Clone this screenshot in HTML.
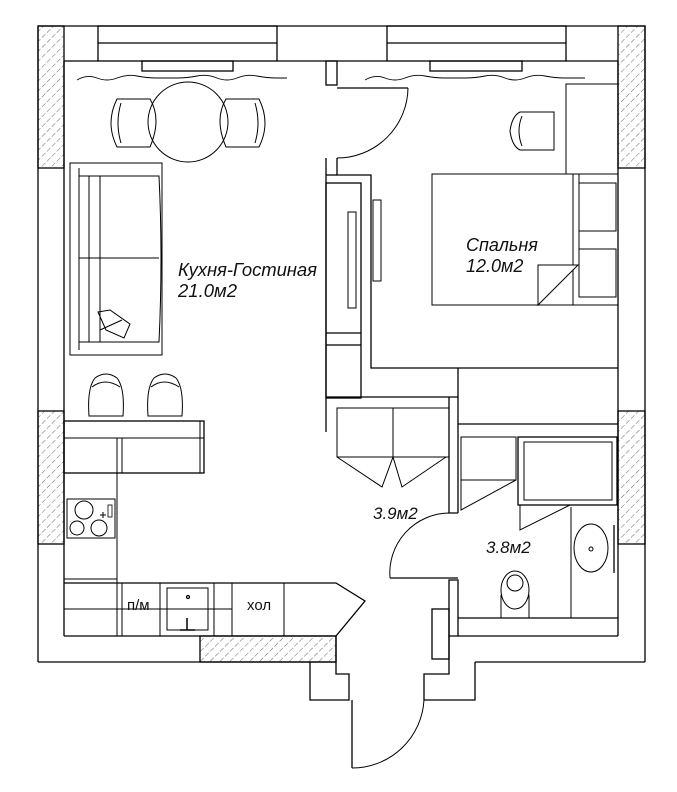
<!DOCTYPE html>
<html><head><meta charset="utf-8"><style>
html,body{margin:0;padding:0;background:#fff}
svg{display:block}
text{font-family:"Liberation Sans",sans-serif;fill:#111}
</style></head><body>
<svg width="677" height="792" viewBox="0 0 677 792" xmlns="http://www.w3.org/2000/svg">
<defs>
<pattern id="h" width="7" height="7" patternUnits="userSpaceOnUse" patternTransform="rotate(45)">
<line x1="0" y1="0" x2="0" y2="7" stroke="#555" stroke-width="0.9" stroke-dasharray="4,2"/>
</pattern>
</defs>
<g fill="none" stroke="#000" stroke-width="1.3">
<rect x="38" y="26" width="26" height="142" fill="url(#h)"/>
<rect x="618" y="26" width="27" height="142" fill="url(#h)"/>
<rect x="38" y="411" width="26" height="133" fill="url(#h)"/>
<rect x="618" y="411" width="27" height="133" fill="url(#h)"/>
<rect x="200" y="636" width="136" height="26" fill="url(#h)"/>
<line x1="38" y1="26" x2="645" y2="26"/>
<line x1="38" y1="26" x2="38" y2="662"/>
<line x1="645" y1="26" x2="645" y2="662"/>
<line x1="38" y1="662" x2="336" y2="662"/>
<line x1="475" y1="662" x2="645" y2="662"/>
<line x1="64" y1="61" x2="64" y2="636"/>
<line x1="618" y1="61" x2="618" y2="636"/>
<line x1="64" y1="61" x2="98" y2="61"/>
<line x1="277" y1="61" x2="387" y2="61"/>
<line x1="566" y1="61" x2="618" y2="61"/>
<rect x="98" y="26" width="179" height="35"/><line x1="98" y1="43" x2="277" y2="43"/>
<rect x="387" y="26" width="179" height="35"/><line x1="387" y1="43" x2="566" y2="43"/>
<rect x="142" y="61" width="91" height="10"/>
<rect x="430" y="61" width="92" height="10"/>
<path d="M77,80 q10,-6 20,-2 t20,0 t20,-2 t20,2 t20,0 t20,-2 t20,2 t20,0 t20,-2 t20,2 t10,0" stroke-width="0.9"/>
<path d="M365,80 q10,-6 20,-2 t20,0 t20,-2 t20,2 t20,0 t20,-2 t20,2 t20,0 t20,-2 t20,2 t20,0" stroke-width="0.9"/>
<circle cx="188" cy="122" r="40" stroke-width="1"/>
<path d="M117,99 h33 q12,20 0,48 h-33 q-12,-24 0,-48 z" stroke-width="1"/>
<path d="M121,103 q-6,20 0,40" stroke-width="1"/>
<path d="M259,99 h-33 q-12,20 0,48 h33 q12,-24 0,-48 z" stroke-width="1"/>
<path d="M255,103 q6,20 0,40" stroke-width="1"/>
<rect x="70" y="163" width="92" height="192" stroke-width="1"/>
<line x1="79" y1="168" x2="79" y2="350" stroke-width="1"/>
<path d="M79,176 h80 q4,82 0,166 h-80" stroke-width="1"/>
<path d="M89,176 v166 M100,176 v166 M79,258 h80" stroke-width="1"/>
<path d="M98,312 l12,-2 l20,14 l-6,14 l-18,-8 z M100,330 l22,-10" stroke-width="1"/>
<rect x="326" y="61" width="11" height="24"/>
<line x1="337" y1="88" x2="408" y2="88"/>
<path d="M408,88 A71,71 0 0 1 337,158" stroke-width="1"/>
<path d="M326,158 v274 M337,158 v17 h34 v193 h247"/>
<path d="M326,175 h11"/>
<rect x="326" y="183" width="35" height="215"/>
<rect x="348" y="212" width="8" height="96" stroke-width="1"/>
<rect x="373" y="200" width="8" height="81" stroke-width="1"/>
<line x1="326" y1="333" x2="361" y2="333"/>
<line x1="326" y1="345" x2="361" y2="345"/>
<rect x="566" y="84" width="52" height="90" stroke-width="1"/>
<path d="M520,112 h34 v38 h-34 q-8,-4 -10,-19 q2,-15 10,-19 z M522,116 q-6,15 0,30" stroke-width="1"/>
<rect x="432" y="174" width="141" height="131" stroke-width="1"/>
<path d="M538,265 h40 l-40,40 z" stroke-width="1" fill="#fff"/>
<line x1="579" y1="174" x2="579" y2="265" stroke-width="1"/>
<rect x="579" y="183" width="37" height="48" stroke-width="1"/>
<rect x="579" y="249" width="37" height="48" stroke-width="1"/>
<line x1="573" y1="305" x2="618" y2="305" stroke-width="1"/>
<path d="M326,397 h132 M458,368 v145 M449,397 v116 h9"/>
<line x1="458" y1="424" x2="618" y2="424"/>
<rect x="337" y="408" width="112" height="49" stroke-width="1"/>
<line x1="393" y1="408" x2="393" y2="457" stroke-width="1"/>
<path d="M337,457 l45,30 l11,-30 l9,30 l44,-30" stroke-width="1"/>
<rect x="461" y="437" width="55" height="43" stroke-width="1"/>
<path d="M461,480 v30 l55,-30" stroke-width="1"/>
<rect x="518" y="437" width="99" height="68"/>
<rect x="524" y="442" width="88" height="58" stroke-width="1"/>
<path d="M520,505 v25 l50,-25" stroke-width="1"/>
<line x1="571" y1="507" x2="571" y2="618" stroke-width="1"/>
<ellipse cx="591" cy="548" rx="17" ry="24" stroke-width="1"/>
<circle cx="591" cy="549" r="2" stroke-width="1"/>
<line x1="614" y1="525" x2="614" y2="573"/>
<ellipse cx="515" cy="590" rx="14" ry="19" stroke-width="1"/>
<ellipse cx="515" cy="583" rx="8" ry="8" stroke-width="1"/>
<path d="M501,595 v23 h28 v-23" stroke-width="1"/>
<path d="M449,513 A60,60 0 0 0 390,578" stroke-width="1"/>
<line x1="390" y1="578" x2="458" y2="578"/>
<path d="M449,580 v56 h9 v-56 z"/>
<path d="M458,618 h160 M458,636 h160"/>
<rect x="432" y="609" width="17" height="50"/>
<path d="M336,636 v38 h13 v26 h-39 v-38"/>
<path d="M449,636 v38 h-25 v26 h51 v-38"/>
<line x1="352" y1="700" x2="352" y2="768"/>
<path d="M352,768 A72,72 0 0 0 424,700" stroke-width="1"/>
<rect x="64" y="421" width="140" height="52"/>
<line x1="64" y1="438" x2="204" y2="438" stroke-width="1"/>
<line x1="200" y1="421" x2="200" y2="473" stroke-width="1"/>
<line x1="117" y1="438" x2="117" y2="636" stroke-width="1"/>
<line x1="122" y1="438" x2="122" y2="473" stroke-width="1"/>
<path d="M89,416 h34 q2,-28 -6,-38 q-11,-8 -22,0 q-8,10 -6,38 z M92,387 q13,-10 28,0" stroke-width="1"/>
<path d="M148,416 h34 q2,-28 -6,-38 q-11,-8 -22,0 q-8,10 -6,38 z M151,387 q13,-10 28,0" stroke-width="1"/>
<rect x="67" y="499" width="48" height="39" stroke-width="1"/>
<circle cx="84" cy="510" r="9" stroke-width="1"/>
<circle cx="77" cy="528" r="7" stroke-width="1"/>
<circle cx="99" cy="528" r="8" stroke-width="1"/>
<path d="M100,515 h6 M103,512 v6" stroke-width="1"/>
<rect x="108" y="505" width="4" height="12" stroke-width="0.8"/>
<line x1="64" y1="579" x2="117" y2="579" stroke-width="1"/>
<path d="M64,583 h272 l29,18 l-29,35 M64,636 h272" />
<line x1="64" y1="609" x2="232" y2="609" stroke-width="1"/>
<path d="M122,583 v53 M160,583 v53 M214,583 v53 M232,583 v53 M284,583 v53" stroke-width="1"/>
<rect x="167" y="588" width="41" height="42" stroke-width="1"/>
<circle cx="188" cy="597" r="1.5"/>
<path d="M187,618 v12 M180,630 h15" stroke-width="1.5"/>
</g>
<text x="178" y="276" font-size="18.5" font-style="italic" textLength="139">Кухня-Гостиная</text>
<text x="178" y="297" font-size="18.5" font-style="italic">21.0м2</text>
<text x="466" y="251" font-size="18" font-style="italic">Спальня</text>
<text x="466" y="272" font-size="18" font-style="italic">12.0м2</text>
<text x="373" y="519" font-size="17" font-style="italic">3.9м2</text>
<text x="486" y="553" font-size="17" font-style="italic">3.8м2</text>
<text x="127" y="610" font-size="15">п/м</text>
<text x="247" y="610" font-size="15">хол</text>
</svg>
</body></html>
